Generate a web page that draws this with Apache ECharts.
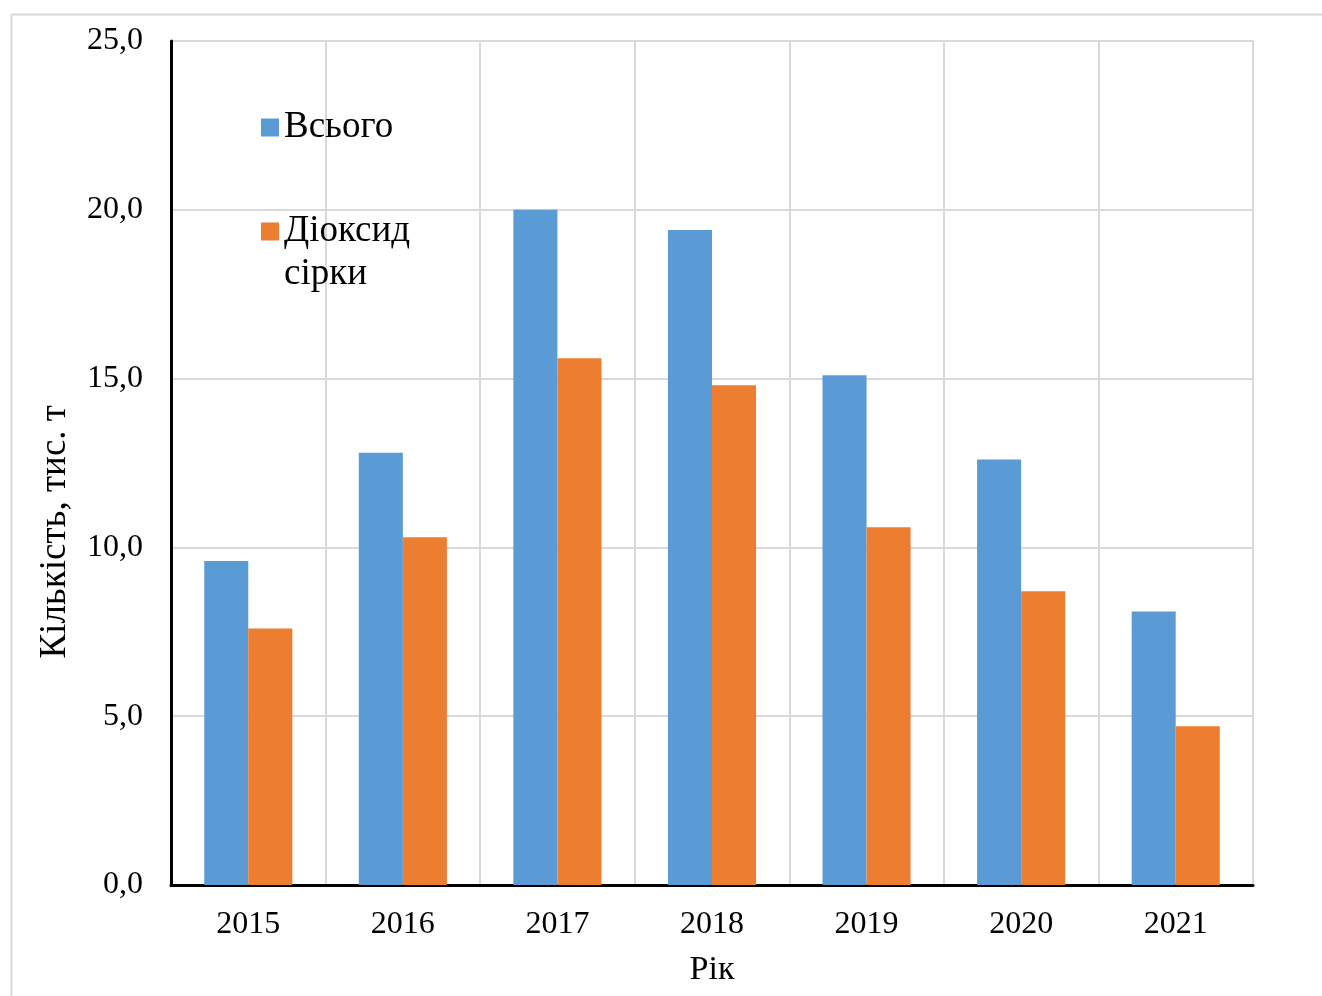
<!DOCTYPE html>
<html>
<head>
<meta charset="utf-8">
<script src="https://cdn.jsdelivr.net/npm/echarts@6/dist/echarts.min.js"></script>
<style>
  html, body {margin: 0; padding: 0; background: #fff;}
  #chart {width: 1322px; height: 996px;}
</style>
</head>
<body>
<div id="chart"></div>
<script>
const years = ['2015', '2016', '2017', '2018', '2019', '2020', '2021'];
const totalValues = [9.6, 12.8, 20.0, 19.4, 15.1, 12.6, 8.1];
const so2Values = [7.6, 10.3, 15.6, 14.8, 10.6, 8.7, 4.7];
const seriesNames = ['Всього', 'Діоксид сірки'];

const font = '"Liberation Serif", "Times New Roman", serif';

let chart = echarts.init(document.getElementById('chart'));
let option = {
  textStyle: {fontFamily: font},
  grid: {left: 171, right: 69, top: 41, bottom: 111, outerBoundsMode: 'none', containLabel: false},
  legend: {
    left: 256,
    top: 101,
    orient: 'vertical',
    itemWidth: 18,
    itemHeight: 18,
    itemGap: 18,
    icon: 'rect',
    data: seriesNames,
    textStyle: {fontSize: 37, color: '#000', fontFamily: font, lineHeight: 43},
    formatter: function (name) {
      if (name === 'Діоксид сірки') return '\nДіоксид\nсірки';
      return name;
    }
  },
  xAxis: {
    type: 'category',
    data: years,
    name: 'Рік',
    nameLocation: 'middle',
    nameGap: 68,
    nameTextStyle: {fontSize: 34, color: '#000', fontFamily: font},
    axisLine: {lineStyle: {color: '#000', width: 3}},
    axisTick: {show: false},
    axisLabel: {fontSize: 32, color: '#000', margin: 24, fontFamily: font},
    splitLine: {show: true, lineStyle: {color: '#d9d9d9', width: 2}}
  },
  yAxis: {
    type: 'value',
    min: 0,
    max: 25,
    interval: 5,
    axisLine: {show: true, lineStyle: {color: '#000', width: 3}},
    axisTick: {show: false},
    axisLabel: {
      fontSize: 32, color: '#000', margin: 28, fontFamily: font,
      formatter: function (v) { return v.toFixed(1).replace('.', ','); }
    },
    splitLine: {lineStyle: {color: '#d9d9d9', width: 2}}
  },
  graphic: [
    {
      type: 'rect',
      left: 9, top: 12,
      shape: {width: 1400, height: 1100},
      style: {fill: 'none', stroke: '#d9d9d9', lineWidth: 2},
      silent: true
    },
    {
      type: 'text',
      left: 37,
      top: 405,
      rotation: Math.PI / 2,
      style: {text: 'Кількість, тис. т', font: '37px ' + font, fill: '#000'}
    }
  ],
  series: [
    {
      name: seriesNames[0],
      type: 'bar',
      data: totalValues,
      barGap: '0%',
      barCategoryGap: '43%',
      itemStyle: {color: '#5b9bd5'}
    },
    {
      name: seriesNames[1],
      type: 'bar',
      data: so2Values,
      barGap: '0%',
      barCategoryGap: '43%',
      itemStyle: {color: '#ed7d31'}
    }
  ]
};
chart.setOption(option);
</script>
</body>
</html>
